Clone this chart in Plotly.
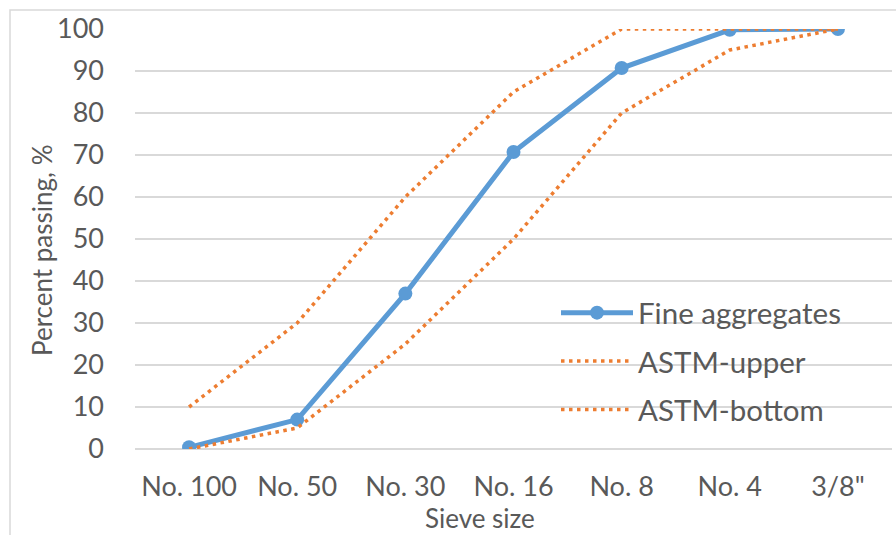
import plotly.graph_objects as go

# Sieve sizes and percent passing for the gradation curve and ASTM limits
sieves = ["No. 100", "No. 50", "No. 30", "No. 16", "No. 8", "No. 4", "3/8\""]
fine_aggregates = [0.4, 7, 37, 70.7, 90.7, 99.8, 100]
astm_upper = [10, 30, 60, 85, 100, 100, 100]
astm_bottom = [0, 5, 25, 50, 80, 95, 100]
y_ticks = [0, 10, 20, 30, 40, 50, 60, 70, 80, 90, 100]

FONT = "Lato"
TEXT = "#595959"
BLUE = "#5b9bd5"
ORANGE = "#ed7d31"
GRID = "#d9d9d9"

W, H = 896, 535
L, R, T, B = 135, 4, 29, 86

fig = go.Figure()
fig.add_trace(go.Scatter(
    x=sieves, y=fine_aggregates, name="Fine aggregates", legendgroup="a",
    mode="lines+markers",
    line=dict(color=BLUE, width=5),
    marker=dict(color=BLUE, size=14),
))
fig.add_trace(go.Scatter(
    x=sieves, y=astm_upper, name="ASTM-upper", legendgroup="b",
    mode="lines",
    line=dict(color=ORANGE, width=3.5, dash="3.5px,4.5px"),
))
fig.add_trace(go.Scatter(
    x=sieves, y=astm_bottom, name="ASTM-bottom", legendgroup="c",
    mode="lines",
    line=dict(color=ORANGE, width=3.5, dash="3.5px,4.5px"),
))

pw = W - L - R
ph = H - T - B

# light chart-area border
fig.add_shape(
    type="rect", xref="paper", yref="paper",
    x0=(10 - L) / pw, x1=(W + 20 - L) / pw,
    y0=-(H + 20 - T - ph) / ph, y1=(ph + T - 10) / ph,
    line=dict(color=GRID, width=1.5), fillcolor="rgba(0,0,0,0)", layer="below",
)

# axis titles
fig.add_annotation(
    text="Sieve size", xref="paper", yref="paper",
    x=(480 - L) / pw, y=-(518 - (H - B)) / ph,
    xanchor="center", yanchor="middle", showarrow=False,
    font=dict(size=26, color=TEXT, family=FONT),
)
fig.add_annotation(
    text="Percent passing, %", xref="paper", yref="paper",
    x=(42 - L) / pw, y=(H - B - 251) / ph, textangle=-90,
    xanchor="center", yanchor="middle", showarrow=False,
    font=dict(size=26, color=TEXT, family=FONT),
)

fig.update_layout(
    width=W, height=H,
    margin=dict(l=L, r=R, t=T, b=B),
    paper_bgcolor="white", plot_bgcolor="white",
    font=dict(family=FONT, color=TEXT, size=27),
    showlegend=True,
    legend=dict(
        x=(556 - L) / pw, xanchor="left",
        y=(H - B - 287) / ph, yanchor="top",
        bgcolor="rgba(0,0,0,0)",
        font=dict(size=29.5, color=TEXT, family=FONT),
        tracegroupgap=7,
        itemwidth=72,
    ),
    xaxis=dict(
        type="category",
        showgrid=False, zeroline=False, showline=False,
        ticks="", tickfont=dict(size=27), ticklabelstandoff=19,
        range=[-0.5, 6.5],
    ),
    yaxis=dict(
        range=[0, 100], tickvals=y_ticks,
        showgrid=True, gridcolor=GRID, gridwidth=1.5,
        zeroline=True, zerolinecolor=GRID, zerolinewidth=1.5,
        showline=False, ticks="", ticklen=0,
        tickfont=dict(size=27), ticklabelstandoff=30,
    ),
)

fig.write_html("out.html")
